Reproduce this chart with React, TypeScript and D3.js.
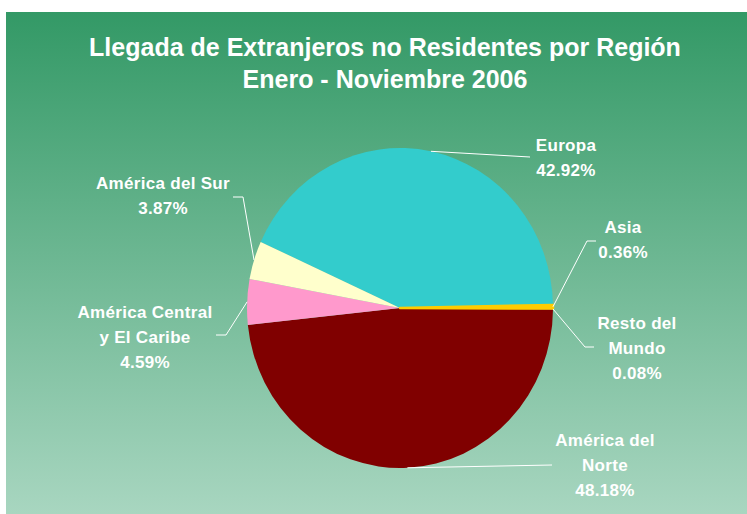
import React from "react";
import * as d3 from "d3";

const categories = ["Europa", "Asia", "Resto del Mundo", "América del Norte", "América Central y El Caribe", "América del Sur"];
const values = [42.92, 0.36, 0.08, 48.18, 4.59, 3.87];
const colors = ["#33CCCC", "#FFCC00", "#993366", "#800000", "#FF99CC", "#FFFFCC"];
const labelLines = [
  ["Europa", "42.92%"],
  ["Asia", "0.36%"],
  ["Resto del", "Mundo", "0.08%"],
  ["América del", "Norte", "48.18%"],
  ["América Central", "y El Caribe", "4.59%"],
  ["América del Sur", "3.87%"],
];
const titleLines = ["Llegada de Extranjeros no Residentes por Región", "Enero - Noviembre 2006"];

// layout: label center x, first-line y, and leader elbow points
const labelLayout = [
  { x: 566, y: 151, elbow: [530, 157], end: [530, 157] },
  { x: 623, y: 233, elbow: [587, 241], end: [596, 241] },
  { x: 637, y: 329, elbow: [585, 347], end: [594, 347] },
  { x: 605, y: 446, elbow: [552, 465], end: [552, 465] },
  { x: 145, y: 318, elbow: [226, 335], end: [216, 335] },
  { x: 163, y: 189, elbow: [243, 197], end: [233, 197] },
];

const W = 747, H = 514;
const cx = 400, cy = 308, rx = 153, ry = 160;

export default function App() {
  const startDeg = -65.6;
  const pie = d3.pie<number>().sort(null).value(d => d)
    .startAngle(startDeg * Math.PI / 180)
    .endAngle((startDeg + 360) * Math.PI / 180);
  const arcs = pie(values);
  const arc = d3.arc<d3.PieArcDatum<number>>().innerRadius(0).outerRadius(ry);
  const font = "'Liberation Sans', Arial, sans-serif";
  return (
    <svg width={W} height={H} style={{ position: "absolute", left: 0, top: 0 }}>
      <defs>
        <linearGradient id="bg" x1="0" y1="0" x2="0" y2="1">
          <stop offset="0%" stopColor="#339966" />
          <stop offset="100%" stopColor="#A8D6C0" />
        </linearGradient>
      </defs>
      <rect x={6} y={12} width={W - 6} height={H - 12} fill="url(#bg)" />
      {titleLines.map((t, i) => (
        <text key={i} x={385} y={56 + i * 32} textAnchor="middle" fill="#fff"
          fontFamily={font} fontWeight="bold" fontSize={25}>{t}</text>
      ))}
      <g transform={`translate(${cx},${cy}) scale(${rx / ry},1)`}>
        {arcs.map((a, i) => (
          <path key={i} d={arc(a) || ""} fill={colors[i]} />
        ))}
        <path d={arc(arcs[1]) || ""} fill={colors[1]} stroke={colors[1]} strokeWidth={2.5} strokeLinejoin="round" />
      </g>
      {arcs.map((a, i) => {
        const m = (a.startAngle + a.endAngle) / 2;
        const px = cx + rx * Math.sin(m);
        const py = cy - ry * Math.cos(m);
        const L = labelLayout[i];
        return (
          <polyline key={i} points={`${px},${py} ${L.elbow[0]},${L.elbow[1]} ${L.end[0]},${L.end[1]}`}
            fill="none" stroke="#fff" strokeWidth={1} />
        );
      })}
      {labelLines.map((lines, i) => (
        <text key={i} x={labelLayout[i].x} y={labelLayout[i].y} textAnchor="middle" fill="#fff"
          fontFamily={font} fontWeight="bold" fontSize={17} letterSpacing={0.3}>
          {lines.map((l, j) => (
            <tspan key={j} x={labelLayout[i].x} dy={j === 0 ? 0 : 25}>{l}</tspan>
          ))}
        </text>
      ))}
    </svg>
  );
}
